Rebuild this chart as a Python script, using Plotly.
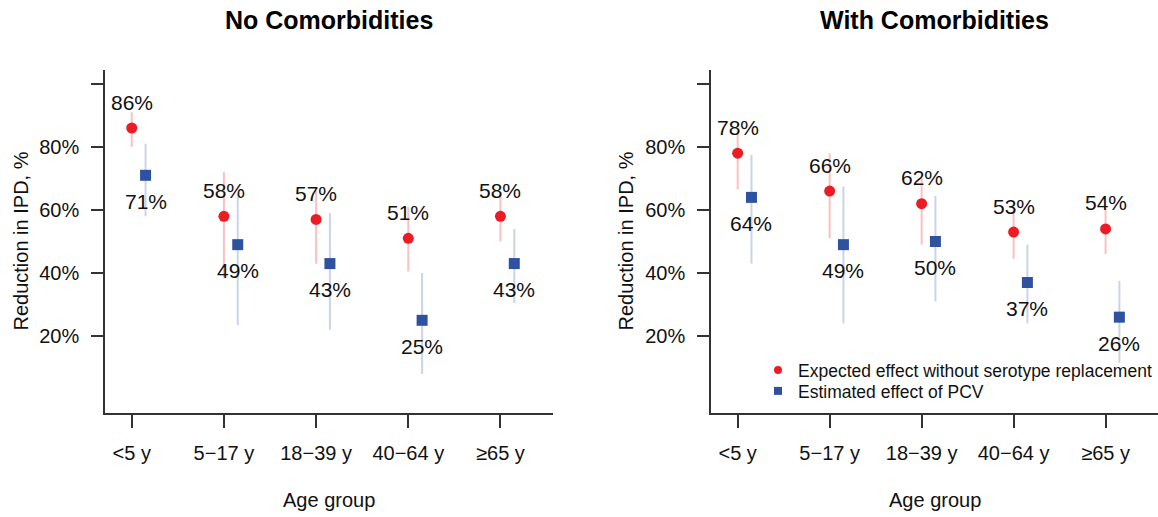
import plotly.graph_objects as go

# ---------------- data ----------------
age_groups = ["<5 y", "5−17 y", "18−39 y", "40−64 y", "≥65 y"]

# No comorbidities
no_expected = [86, 58, 57, 51, 58]
no_expected_lo = [80, 38.5, 43, 40.5, 50]
no_expected_hi = [91, 72, 66, 61, 65]
no_estimated = [71, 49, 43, 25, 43]
no_estimated_lo = [58, 23.5, 22, 8, 30.5]
no_estimated_hi = [81, 65.5, 59, 40, 54]

# With comorbidities
with_expected = [78, 66, 62, 53, 54]
with_expected_lo = [66.5, 51, 49, 44.5, 46]
with_expected_hi = [85, 78, 70, 60.5, 60.5]
with_estimated = [64, 49, 50, 37, 26]
with_estimated_lo = [43, 24, 31, 24, 11.5]
with_estimated_hi = [77.5, 67.5, 64.5, 49, 37.5]

y_tick_vals = [20, 40, 60, 80, 100]
y_tick_text = ["20%", "40%", "60%", "80%", ""]

series_names = ["Expected effect without serotype replacement", "Estimated effect of PCV"]
panel_titles = ["No Comorbidities", "With Comorbidities"]

# ---------------- style ----------------
W, H = 1158, 517
RED = "#ED1C24"
BLUE = "#2F52A0"
RED_CI = "rgba(237,28,36,0.28)"
BLUE_CI = "rgba(47,82,160,0.25)"
AXC = "#333333"
FONT = "Liberation Sans, Arial, Helvetica, sans-serif"
BLUE_OFF = 0.15

fig = go.Figure()

pos = list(range(1, len(age_groups) + 1))

panels = [
    ("x", "y", no_expected, no_expected_lo, no_expected_hi,
     no_estimated, no_estimated_lo, no_estimated_hi),
    ("x2", "y2", with_expected, with_expected_lo, with_expected_hi,
     with_estimated, with_estimated_lo, with_estimated_hi),
]

annotations = []
for xa, ya, ev, elo, ehi, sv, slo, shi in panels:
    xs_e = pos
    xs_s = [p + BLUE_OFF for p in pos]
    fig.add_trace(go.Scatter(
        x=xs_e, y=ev, mode="markers", xaxis=xa, yaxis=ya, showlegend=False,
        marker=dict(symbol="circle", size=11, color=RED),
        error_y=dict(type="data", symmetric=False,
                     array=[h - v for h, v in zip(ehi, ev)],
                     arrayminus=[v - l for v, l in zip(ev, elo)],
                     color=RED_CI, thickness=2, width=0),
        cliponaxis=False,
    ))
    fig.add_trace(go.Scatter(
        x=xs_s, y=sv, mode="markers", xaxis=xa, yaxis=ya, showlegend=False,
        marker=dict(symbol="square", size=11, color=BLUE),
        error_y=dict(type="data", symmetric=False,
                     array=[h - v for h, v in zip(shi, sv)],
                     arrayminus=[v - l for v, l in zip(sv, slo)],
                     color=BLUE_CI, thickness=2, width=0),
        cliponaxis=False,
    ))
    for x, v in zip(xs_e, ev):
        annotations.append(dict(x=x, y=v, xref=xa, yref=ya, text=f"{v}%",
                                showarrow=False, yshift=26,
                                font=dict(size=21, color="#111111", family=FONT)))
    for x, v in zip(xs_s, sv):
        annotations.append(dict(x=x, y=v, xref=xa, yref=ya, text=f"{v}%",
                                showarrow=False, yshift=-26,
                                font=dict(size=21, color="#111111", family=FONT)))

# legend-only traces (one per legend box for precise spacing)
fig.add_trace(go.Scatter(x=[None], y=[None], mode="markers", name=series_names[0],
                         marker=dict(symbol="circle", size=8, color=RED),
                         xaxis="x2", yaxis="y2", legend="legend"))
fig.add_trace(go.Scatter(x=[None], y=[None], mode="markers", name=series_names[1],
                         marker=dict(symbol="square", size=8, color=BLUE),
                         xaxis="x2", yaxis="y2", legend="legend2"))

# panel geometry (pixels)
L1, R1 = 105, 553
L2, R2 = 711, 1158
TOP, BOT = 70, 413
ydom = [1 - BOT / H, 1 - TOP / H]

def px(x):
    return x / W

def py(y):
    return 1 - y / H

# titles and axis titles
for cx, t in zip([(L1 + R1) / 2, 935], panel_titles):
    annotations.append(dict(x=px(cx), y=py(20), xref="paper", yref="paper", text=f"<b>{t}</b>",
                            showarrow=False, xanchor="center", yanchor="middle",
                            font=dict(size=25, color="#000000", family=FONT)))
for cx in [(L1 + R1) / 2, 935]:
    annotations.append(dict(x=px(cx), y=py(500), xref="paper", yref="paper", text="Age group",
                            showarrow=False, xanchor="center", yanchor="middle",
                            font=dict(size=20, color="#111111", family=FONT)))
for cx in [20, 625]:
    annotations.append(dict(x=px(cx), y=py((TOP + BOT) / 2), xref="paper", yref="paper",
                            text="Reduction in IPD, %", textangle=-90,
                            showarrow=False, xanchor="center", yanchor="middle",
                            font=dict(size=20, color="#111111", family=FONT)))

xaxis_common = dict(range=[0.71, 5.57], tickmode="array", tickvals=pos, ticktext=age_groups,
                    showline=True, linecolor=AXC, linewidth=1.5, ticks="outside", ticklen=13,
                    tickwidth=1.5, tickcolor=AXC, showgrid=False, zeroline=False,
                    tickfont=dict(size=20, color="#111111", family=FONT),
                    ticklabelstandoff=8, fixedrange=True)
yaxis_common = dict(range=[-4.4, 104.4], tickmode="array", tickvals=y_tick_vals, ticktext=y_tick_text,
                    showline=True, linecolor=AXC, linewidth=1.5, ticks="outside", ticklen=12,
                    tickwidth=1.5, tickcolor=AXC, showgrid=False, zeroline=False,
                    tickfont=dict(size=20, color="#111111", family=FONT),
                    ticklabelstandoff=8, domain=ydom, fixedrange=True)

legend_common = dict(xanchor="left", yanchor="middle", bgcolor="rgba(0,0,0,0)",
                     font=dict(size=17.5, color="#111111", family=FONT),
                     itemwidth=30, tracegroupgap=0)

fig.update_layout(
    width=W, height=H, autosize=False,
    margin=dict(l=0, r=0, t=0, b=0),
    paper_bgcolor="white", plot_bgcolor="white",
    font=dict(family=FONT, color="#111111"),
    xaxis=dict(domain=[px(L1), px(R1)], anchor="y", **xaxis_common),
    yaxis=dict(anchor="x", **yaxis_common),
    xaxis2=dict(domain=[px(L2), px(R2)], anchor="y2", **xaxis_common),
    yaxis2=dict(anchor="x2", **yaxis_common),
    annotations=annotations,
    showlegend=True,
    legend=dict(x=px(758), y=py(370), **legend_common),
    legend2=dict(x=px(758), y=py(391), **legend_common),
)

fig.write_html("out.html",
               config={"responsive": False, "displayModeBar": False},
               post_script="document.body.style.margin='0px';document.body.style.overflow='hidden';")
